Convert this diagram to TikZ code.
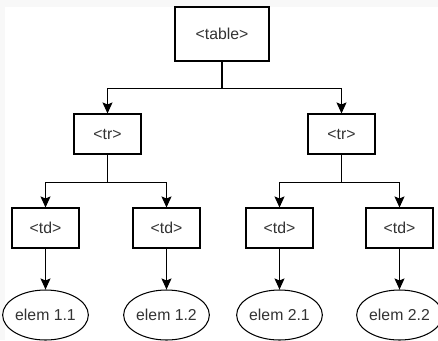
\documentclass[tikz,border=0pt]{standalone}
\usepackage{fontspec}
\setmainfont{Liberation Sans}
\usetikzlibrary{arrows.meta,shapes.geometric}
\definecolor{bggray}{HTML}{F8F8F8}
\definecolor{txt}{HTML}{333333}
\begin{document}
\begin{tikzpicture}[x=1pt,y=-1pt,
  box/.style={draw=black,line width=1.05pt,fill=white,minimum width=#1,inner sep=0pt,text=txt,font=\fontsize{15.8}{18}\selectfont},
  oval/.style={draw=black,line width=1.05pt,ellipse,fill=white,minimum width=82pt,minimum height=50pt,inner sep=0pt,text=txt,font=\fontsize{15.8}{18}\selectfont},
  arr/.style={line width=1.2pt,-{Stealth[width=10pt,length=11pt,inset=2pt]}}]
\fill[bggray] (0,0) rectangle (438,340);
\fill[white] (5,7) rectangle (438,340);
\useasboundingbox (0,0) rectangle (438,340);
\node[box=94pt,minimum height=54pt] (table) at (222,34) {<table>};
\node[box=67pt,minimum height=40pt] (trL) at (107.5,134) {<tr>};
\node[box=67pt,minimum height=40pt] (trR) at (341.5,134) {<tr>};
\node[box=67pt,minimum height=40pt] (td11) at (45.5,228) {<td>};
\node[box=67pt,minimum height=40pt] (td12) at (166.5,228) {<td>};
\node[box=67pt,minimum height=40pt] (td21) at (279.5,228) {<td>};
\node[box=67pt,minimum height=40pt] (td22) at (399.5,228) {<td>};
\node[oval] (e11) at (45.5,315) {elem 1.1};
\node[oval] (e12) at (166.5,315) {elem 1.2};
\node[oval] (e21) at (279.5,315) {elem 2.1};
\node[oval] (e22) at (399.5,315) {elem 2.2};
\draw[arr] (table.south) -- ++(0,27) -| (trL.north);
\draw[arr] (table.south) -- ++(0,27) -| (trR.north);
\draw[arr] (trL.south) -- ++(0,28) -| (td11.north);
\draw[arr] (trL.south) -- ++(0,28) -| (td12.north);
\draw[arr] (trR.south) -- ++(0,28) -| (td21.north);
\draw[arr] (trR.south) -- ++(0,28) -| (td22.north);
\draw[arr] (td11.south) -- (e11.north);
\draw[arr] (td12.south) -- (e12.north);
\draw[arr] (td21.south) -- (e21.north);
\draw[arr] (td22.south) -- (e22.north);
\end{tikzpicture}
\end{document}
